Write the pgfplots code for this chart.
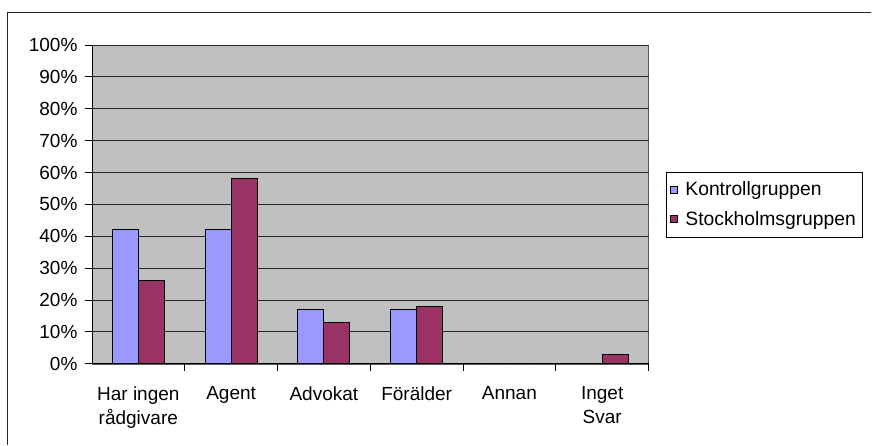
\documentclass[border=0pt]{standalone}
\usepackage{pgfplots}
\pgfplotsset{compat=1.18}
\usepackage{fontspec}
\setmainfont{Liberation Sans}
\definecolor{plotbg}{HTML}{C0C0C0}
\definecolor{kblue}{HTML}{9999FF}
\definecolor{sred}{HTML}{993366}
\begin{document}
\begin{tikzpicture}
\path (0pt,0pt) rectangle (872pt,445pt);
\draw[line width=1.2pt,black!85] (7.5pt,0pt) -- (7.5pt,432.5pt) -- (872pt,432.5pt);
\begin{axis}[
  at={(92pt,81pt)}, anchor=south west,
  scale only axis, width=557pt, height=319pt,
  ybar=0pt, bar width=26pt,
  xmin=-0.5, xmax=5.5, ymin=0, ymax=100,
  axis background/.style={fill=plotbg, draw=gray!70!black},
  axis x line*=bottom, axis y line*=left,
  axis line style={black, line width=0.8pt},
  xtick={0,1,2,3,4,5},
  xticklabels={{Har ingen\\rådgivare},Agent,Advokat,Förälder,Annan,{Inget\\Svar}},
  xticklabel style={align=center, yshift=-12pt, font=\fontsize{19}{24}\selectfont},
  minor xtick={0.5,1.5,2.5,3.5,4.5,5.5},
  major x tick style={draw=none},
  minor x tick style={black, line width=0.8pt},
  minor tick length=7pt, major tick length=7pt,
  tick align=outside,
  ytick={0,10,...,100},
  /pgf/number format/assume math mode=true,
  yticklabel={\pgfmathprintnumber{\tick}\%},
  yticklabel style={font=\fontsize{19}{22}\selectfont, xshift=-4pt},
  ytick style={black, line width=0.8pt},
  ymajorgrids, grid style={black!85, line width=0.8pt},
  legend style={at={(rel axis cs:1.0305,0.5)}, anchor=west, draw=black, line width=0.6pt,
    font=\fontsize{19.3}{22}\selectfont, inner xsep=4pt, inner ysep=8pt,
    row sep=10pt, column sep=6pt, cells={anchor=west}},
  legend image code/.code={\draw[#1, line width=0.6pt, bar shift=0pt] (0pt,-3.5pt) rectangle (7pt,3.5pt);},
]
\addplot[fill=kblue, draw=black, line width=1pt] coordinates {(0,42) (1,42) (2,17) (3,17) (4,0) (5,0)};
\addplot[fill=sred, draw=black, line width=1pt] coordinates {(0,26) (1,58) (2,13) (3,18) (4,0) (5,3)};
\legend{Kontrollgruppen,Stockholmsgruppen}
\end{axis}
\end{tikzpicture}
\end{document}
